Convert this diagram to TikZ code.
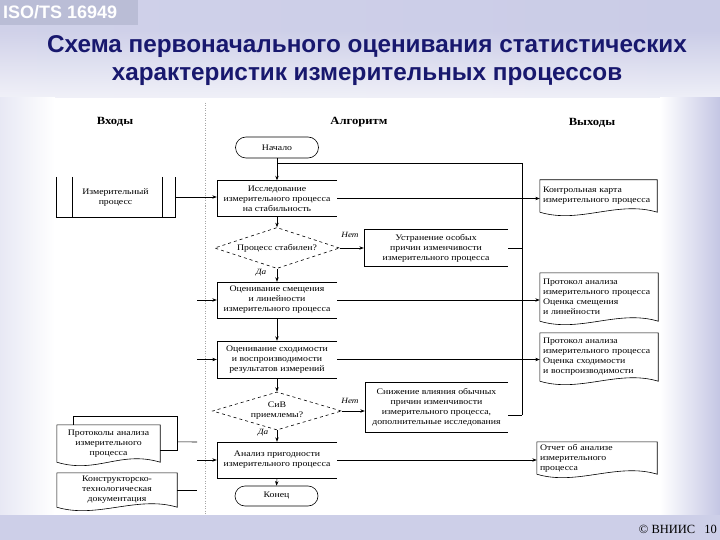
\documentclass[tikz,border=0pt]{standalone}
\usepackage{fontspec}
\setmainfont{Liberation Serif}
\newfontfamily\diag[FakeStretch=1.15]{Liberation Serif}
\newfontfamily\ttl{Liberation Sans}
\usetikzlibrary{shapes.geometric,shapes.misc,arrows.meta,calc,fadings}
\definecolor{lav}{RGB}{196,198,228}
\definecolor{navy}{RGB}{24,24,110}
\definecolor{isobox}{RGB}{186,189,214}
\newcommand\opnbx[1]{\draw[ln] (#1.north east) -- (#1.north west) -- (#1.south west) -- (#1.south east);}
\newcommand\dcfrm[1]{\draw[ln] (#1.south west) -- (#1.north west) -- (#1.north east) -- (#1.south east) .. controls +(-40,-12) and +(40,12) .. (#1.south west);}
\begin{document}
\begin{tikzpicture}[x=1pt,y=-1pt,
  txt/.style={font=\diag\fontsize{8.5}{10}\selectfont, align=center, inner sep=0pt},
  proc/.style={txt, minimum width=120pt, minimum height=36pt},
  term/.style={txt, rounded rectangle, draw, line width=0.6pt, minimum width=83pt, minimum height=21pt},
  dec/.style={txt, diamond, aspect=3, draw, dashed, line width=0.6pt},
  docn/.style={txt, align=left, inner xsep=3pt, inner ysep=0pt},
  docc/.style={txt, align=center, inner xsep=3pt, inner ysep=0pt},
  lab/.style={font=\diag\itshape\fontsize{8}{9}\selectfont, inner sep=0pt},
  hdr/.style={font=\diag\bfseries\fontsize{11}{12}\selectfont, inner sep=0pt},
  ln/.style={line width=0.6pt},
  arr/.style={ln, -{Stealth[length=4.5pt,width=3.4pt]}},
]
\useasboundingbox (0,0) rectangle (720,540);
% background
\fill[white] (0,0) rectangle (720,540);
\shade[left color=lav!80, middle color=white, right color=lav!90] (0,0) rectangle (720,98);
\fill[white, path fading=north, fill opacity=0.7] (0,30) rectangle (720,98);
\shade[left color=lav!40, right color=white] (0,98) rectangle (55,515);
\shade[left color=white, right color=lav] (660,98) rectangle (720,515);
\fill[lav!85] (0,515) rectangle (720,540);
\fill[white] (55,98) rectangle (660,515);
% top labels
\fill[isobox] (0,0) rectangle (138,25);
\node[font=\ttl\bfseries\fontsize{18}{20}\selectfont, text=white, anchor=west, inner sep=0pt] (iso) at (3,12.5) {ISO/TS 16949};
\node[font=\ttl\bfseries\fontsize{24.3}{28}\selectfont, text=navy, anchor=base, inner sep=0pt] (t1) at (367,53) {Схема первоначального оценивания статистических};
\node[font=\ttl\bfseries\fontsize{24.3}{28}\selectfont, text=navy, anchor=base, inner sep=0pt] (t2) at (367,81) {характеристик измерительных процессов};
\node[font=\fontsize{12.5}{14}\selectfont, anchor=base east, inner sep=0pt] (cpy) at (717,533) {© ВНИИС\hspace{9pt}10};
% headers and divider
\node[hdr] (hin) at (115,122) {Входы};
\node[hdr] (halg) at (359,122) {Алгоритм};
\node[hdr] (hout) at (592,123) {Выходы};
\coordinate (dvT) at (205,103);
\coordinate (dvB) at (205,515);
\draw[gray!70, line width=0.5pt, dash pattern=on 1pt off 1.5pt] (dvT) -- (dvB);
% algorithm column
\node[term] (st) at (277,147.5) {Начало};
\node[proc] (b1) at (277,198.5) {Исследование\\измерительного процесса\\на стабильность};
\node[dec, minimum width=125pt, minimum height=41pt] (d1) at (277,248) {Процесс стабилен?};
\node[proc, minimum width=144pt] (us) at (436,248) {Устранение особых\\причин изменчивости\\измерительного процесса};
\node[proc] (b3) at (277,300) {Оценивание смещения\\и линейности\\измерительного процесса};
\node[proc, minimum height=37pt] (b4) at (277,359.5) {Оценивание сходимости\\и воспроизводимости\\результатов измерений};
\node[dec, minimum width=129pt, minimum height=38pt] (d2) at (277,411) {СиВ\\приемлемы?};
\node[proc, minimum width=143pt, minimum height=50pt] (sn) at (436.5,407) {Снижение влияния обычных\\причин изменчивости\\измерительного процесса,\\дополнительные исследования};
\node[proc] (b5) at (277,460) {Анализ пригодности\\измерительного процесса};
\node[term, minimum height=20pt] (en) at (276.5,496) {Конец};
\foreach \n in {b1,us,b3,b4,sn,b5} {\opnbx{\n}}
\node[lab] (no1) at (350,235) {Нет};
\node[lab] (no2) at (350,401) {Нет};
\node[lab] (ye1) at (261,273) {Да};
\node[lab] (ye2) at (263,433) {Да};
% outputs
\node[docn, text width=111pt, minimum height=32pt] (oA) at (598.5,196) {Контрольная карта\\измерительного процесса};
\node[docn, text width=112pt, minimum height=48pt] (oB) at (599,297) {Протокол анализа\\измерительного процесса\\Оценка смещения\\и линейности};
\node[docn, text width=112pt, minimum height=48pt] (oC) at (599,357) {Протокол анализа\\измерительного процесса\\Оценка сходимости\\и воспроизводимости};
\node[docn, text width=114pt, minimum height=32pt] (oD) at (597,458) {Отчет об анализе\\измерительного\\процесса};
\foreach \n in {oA,oB,oC,oD} {\dcfrm{\n}}
% inputs
\node[txt, minimum width=119pt, minimum height=40pt] (iM) at (115.5,197) {Измерительный\\процесс};
\draw[ln] (iM.north west) -- (iM.south west) -- (iM.south east) -- (iM.north east);
\draw[ln] ($(iM.north west)+(16,0)$) -- ($(iM.south west)+(16,0)$);
\draw[ln] ($(iM.north east)+(-13,0)$) -- ($(iM.south east)+(-13,0)$);
\node[docc, text width=97pt, minimum height=37pt] (iP) at (108.5,443.5) {Протоколы анализа\\измерительного\\процесса};
\dcfrm{iP}
\draw[ln] ($(iP.north west)+(16,0)$) -- ($(iP.north west)+(16,-9)$) -- ($(iP.north east)+(17,-9)$) -- ($(iP.south east)+(17,-12)$) -- ($(iP.south east)+(0,-12)$);
\node[docc, text width=114pt, minimum height=34pt] (iK) at (117,490) {Конструкторско-\\технологическая\\документация};
\dcfrm{iK}
% connectors: main flow
\draw[arr] (st.south) -- (b1.north);
\draw[arr] (b1.south) -- (d1.north);
\draw[arr] (d1.south) -- (b3.north);
\draw[arr] (b3.south) -- (b4.north);
\draw[arr] (b4.south) -- (d2.north);
\draw[arr] (d2.south) -- (b5.north);
\draw[arr] (b5.south) -- (en.north);
\draw[arr] (d1.east) -- (d1.east -| us.west);
\draw[arr] (d2.east) -- (d2.east -| sn.west);
% feedback loop
\coordinate (busT) at (522,163);
\coordinate (busB) at (522,415);
\draw[ln] (us.east) -- (us.east -| busB);
\draw[ln] ([yshift=-8pt]sn.east) -- (busB);
\draw[ln] (busB) -- (busT) -- (busT -| b1.north);
% outputs connectors
\draw[arr] (b1.east) -- (b1.east -| oA.west);
\draw[arr] (b3.east) -- (b3.east -| oB.west);
\draw[arr] (b4.east) -- (b4.east -| oC.west);
\draw[arr] (b5.east) -- (b5.east -| oD.west);
% inputs connectors
\draw[arr] (iM.east) -- (iM.east -| b1.west);
\coordinate (l3) at (197,300);
\coordinate (l4) at (197,359.5);
\draw[arr] (l3) -- (l3 -| b3.west);
\draw[arr] (l4) -- (l4 -| b4.west);
\coordinate (jP) at (197,442);
\coordinate (jK) at (197,490);
\coordinate (j5) at (197,460);
\draw[ln] ($(iP.north east)+(17,17)$) -- (jP);
\draw[ln] (iK.east) -- (jK);
\draw[arr] (j5) -- (j5 -| b5.west);
\end{tikzpicture}
\end{document}
